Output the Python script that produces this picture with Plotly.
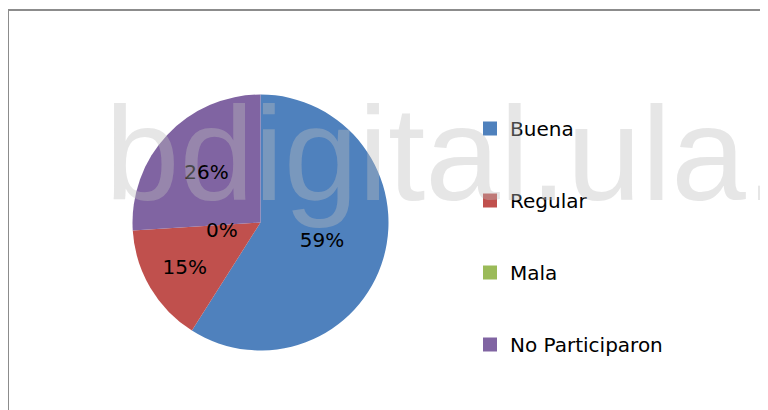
import plotly.graph_objects as go

categories = ["Buena", "Regular", "Mala", "No Participaron"]
values = [59, 15, 0, 26]
colors = ["#4F81BD", "#C0504D", "#9BBB59", "#8064A2"]
watermark = "bdigital.ula."

W, H = 768, 410

fig = go.Figure()

fig.add_trace(go.Pie(
    labels=categories,
    values=values,
    sort=False,
    direction="clockwise",
    rotation=0,
    marker=dict(colors=colors, line=dict(width=0)),
    textinfo="percent",
    texttemplate="%{percent:.0%}",
    textposition="inside",
    insidetextorientation="horizontal",
    textfont=dict(family="DejaVu Sans", size=20, color="black"),
    domain=dict(x=[(252.5 - 128) / W, (252.5 + 128) / W],
                y=[(H - 214.5 - 128) / H, (H - 214.5 + 128) / H]),
    showlegend=False,
    hoverinfo="label+percent",
))

# legend proxies (one group each so the spacing can follow the reference)
for c, col in zip(categories, colors):
    fig.add_trace(go.Scatter(
        x=[None], y=[None], mode="markers", name=c, legendgroup=c,
        marker=dict(symbol="square", size=14, color=col),
        showlegend=True,
    ))

# label of the zero-size slice (Plotly does not draw text for empty slices)
zero_idx = values.index(0)
fig.add_annotation(
    text=f"{values[zero_idx]}%", xref="paper", yref="paper",
    x=214 / W, y=1 - 222 / H, xanchor="center", yanchor="middle",
    showarrow=False,
    font=dict(family="DejaVu Sans", size=20, color="black"),
)

fig.add_annotation(
    text=watermark, xref="paper", yref="paper",
    x=95 / W, y=1 - 145.6 / H, xanchor="left", yanchor="middle",
    showarrow=False,
    font=dict(family="Liberation Sans", size=134, color="rgba(188,188,188,0.38)"),
)

fig.add_shape(
    type="rect", xref="paper", yref="paper",
    x0=0, x1=1.02, y0=-0.02, y1=1 - 2 / H,
    line=dict(color="#8C8C8C", width=2), fillcolor="rgba(0,0,0,0)", layer="below",
)

fig.update_layout(
    width=W, height=H,
    margin=dict(l=0, r=0, t=0, b=0),
    paper_bgcolor="white", plot_bgcolor="white",
    xaxis=dict(visible=False), yaxis=dict(visible=False),
    legend=dict(
        x=462 / W, y=1 - 101 / H, xanchor="left", yanchor="top",
        font=dict(family="DejaVu Sans", size=20, color="black"),
        tracegroupgap=43, bgcolor="rgba(0,0,0,0)",
    ),
)

fig.write_html("out.html")
